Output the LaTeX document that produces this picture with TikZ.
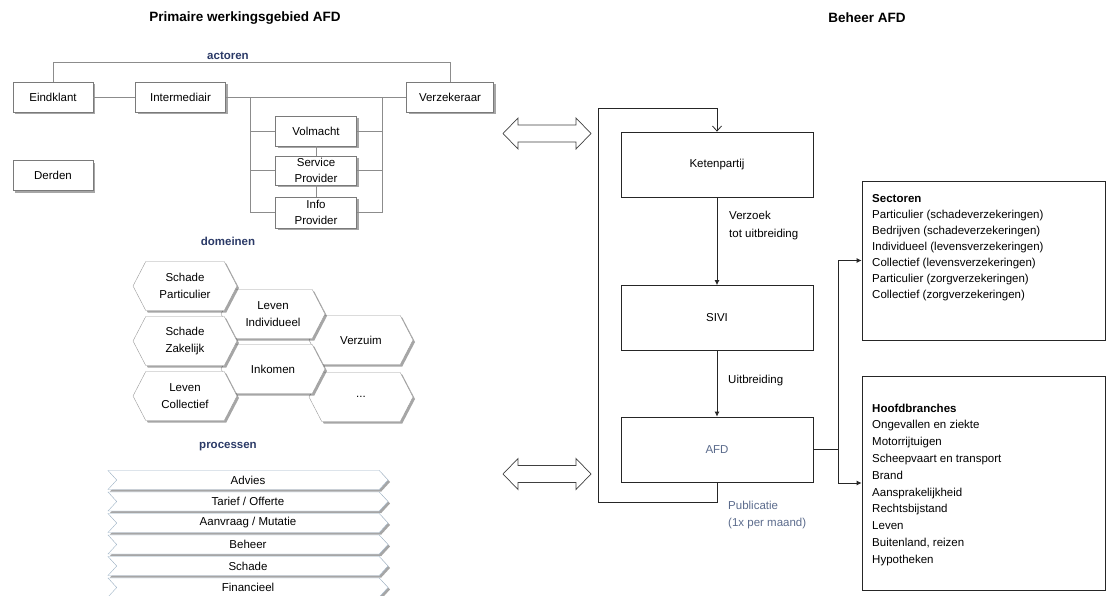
\documentclass[tikz,border=0pt]{standalone}
\usepackage{fontspec}
\setmainfont{Liberation Sans}
\usetikzlibrary{shapes.symbols,shadows,arrows.meta}
\definecolor{navy}{HTML}{2B3A67}
\definecolor{conngray}{HTML}{8C8C8C}
\definecolor{boxgray}{HTML}{7A7A7A}
\definecolor{hexgray}{HTML}{9A9A9A}
\definecolor{procblue}{HTML}{9FB4C7}
\definecolor{afdblue}{HTML}{5B6B8C}
\begin{document}
\begin{tikzpicture}[x=1pt,y=-1pt,
  font=\fontsize{11.5}{14}\selectfont,
  shd/.style={drop shadow={shadow xshift=2pt,shadow yshift=-2pt,fill=black,opacity=0.35}},
  actor/.style={draw=boxgray, fill=white, shd, minimum height=30pt, inner sep=0pt, align=center,
    font=\fontsize{11.5}{16}\selectfont},
  hexa/.style={signal, signal to=east and west, signal pointer angle=125, draw=hexgray, fill=white, shd,
    minimum width=104pt, minimum height=49pt, inner sep=0pt, align=center, font=\fontsize{11.5}{17}\selectfont},
  proc/.style={signal, signal from=west, signal to=east, signal pointer angle=95, draw=procblue, fill=white, shd,
    minimum width=280pt, minimum height=19pt, inner sep=0pt},
  seclabel/.style={font=\fontsize{11.5}{14}\selectfont\bfseries, text=navy},
  titlelabel/.style={font=\fontsize{13.5}{16}\selectfont\bfseries},
  conn/.style={draw=conngray, line width=0.8pt},
  flow/.style={draw=black!85, line width=0.8pt, minimum width=192pt, minimum height=65pt, fill=white},
  arr/.style={draw=black!85, line width=0.8pt, -{Latex[length=5pt,width=5pt]}},
  dblarrow/.pic={
    \draw[draw=black!75, line width=0.7pt, fill=white]
      (-44,0) -- (-29,-15.5) -- (-29,-8.5) -- (29,-8.5) -- (29,-15.5) -- (44,0)
      -- (29,15.5) -- (29,8.5) -- (-29,8.5) -- (-29,15.5) -- cycle;
  }
]
\useasboundingbox (0,0) rectangle (1107,595);

% Titles
\node[titlelabel] (t1) at (245,18) {Primaire werkingsgebied AFD};
\node[titlelabel] (t2) at (867,18) {Beheer AFD};

% ---------- actoren ----------
\node[seclabel] (lact) at (228,56) {actoren};
\node[actor, minimum width=80pt] (eind) at (53,97) {Eindklant};
\node[actor, minimum width=90pt] (inter) at (180.5,97) {Intermediair};
\node[actor, minimum width=87pt] (verz) at (450,97) {Verzekeraar};
\node[actor, minimum width=80pt] (derd) at (53,175.5) {Derden};
\node[actor, minimum width=81pt] (volm) at (316,131) {Volmacht};
\node[actor, minimum width=81pt, minimum height=29pt] (serv) at (316,170.5) {Service\\Provider};
\node[actor, minimum width=81pt, minimum height=31pt] (info) at (316,212.5) {Info\\Provider};

\coordinate (jl) at (250,97);
\coordinate (jr) at (382,97);
\draw[conn] (eind.north) -- ++(0,-19) -| (verz.north);
\draw[conn] (eind) -- (inter);
\draw[conn] (inter) -- (verz);
\draw[conn] (jl) |- (volm.west);
\draw[conn] (jl) |- (serv.west);
\draw[conn] (jl) |- (info.west);
\draw[conn] (jr) |- (volm.east);
\draw[conn] (jr) |- (serv.east);
\draw[conn] (jr) |- (info.east);
\draw[conn] (volm) -- (serv);
\draw[conn] (serv) -- (info);

% ---------- domeinen ----------
\node[seclabel] (ldom) at (228,241) {domeinen};
\node[hexa] (verzuim) at (361,340) {Verzuim};
\node[hexa] (dots) at (361,397) {...};
\node[hexa] (levind) at (273,314) {Leven\\Individueel};
\node[hexa] (inkomen) at (273,369) {Inkomen};
\node[hexa] (schpart) at (185,286) {Schade\\Particulier};
\node[hexa] (schzak) at (185,341) {Schade\\Zakelijk};
\node[hexa] (levcol) at (185,396) {Leven\\Collectief};

% ---------- processen ----------
\node[seclabel] (lproc) at (228,447) {processen};
\node[proc] (p1) at (248,480) {Advies};
\node[proc] (p2) at (248,501.5) {Tarief / Offerte};
\node[proc] (p3) at (248,523) {Aanvraag / Mutatie};
\node[proc] (p4) at (248,544.5) {Beheer};
\node[proc] (p5) at (248,566) {Schade};
\node[proc] (p6) at (248,587.5) {Financieel};

% ---------- double arrows ----------
\pic at (547,133.5) {dblarrow};
\pic at (547,474) {dblarrow};

% ---------- Beheer ----------
\node[flow] (keten) at (717,164.5) {Ketenpartij};
\node[flow] (sivi) at (717,318) {SIVI};
\node[flow, text=afdblue] (afd) at (717,449.5) {AFD};

\draw[arr] (keten) -- (sivi);
\draw[arr] (sivi) -- (afd);
\node[anchor=west, align=left, inner sep=0pt, font=\fontsize{11.5}{18}\selectfont] (lab1) at (729,226) {Verzoek\\tot uitbreiding};
\node[anchor=west, inner sep=0pt] (lab2) at (728,381) {Uitbreiding};
\node[anchor=west, align=left, inner sep=0pt, text=afdblue, font=\fontsize{11.5}{16.5}\selectfont] (lab3) at (728,515) {Publicatie\\(1x per maand)};

\coordinate (lpb) at (598,502);
\coordinate (lpt) at (598,108);
\draw[draw=black!85, line width=0.8pt, -{Straight Barb[length=5pt,width=9pt]}] (afd.south) |- (lpb) -- (lpt) -| (keten.north);

\node[draw=black!85, line width=0.8pt, minimum width=243pt, minimum height=159pt] (sectbox) at (983.5,260.5) {};
\node[draw=black!85, line width=0.8pt, minimum width=243pt, minimum height=214pt] (hoofbox) at (983.5,483) {};
\draw[arr] (afd.east) -- ++(25,0) |- (sectbox.west);
\draw[arr] (afd.east) -- ++(25,0) |- (hoofbox.west);

\node[anchor=north west, align=left, inner sep=0pt, font=\fontsize{11.5}{16}\selectfont] (secttxt) at (872,194)
  {\textbf{Sectoren}\\Particulier (schadeverzekeringen)\\Bedrijven (schadeverzekeringen)\\Individueel (levensverzekeringen)\\Collectief (levensverzekeringen)\\Particulier (zorgverzekeringen)\\Collectief (zorgverzekeringen)};
\node[anchor=north west, align=left, inner sep=0pt, font=\fontsize{11.5}{16.8}\selectfont] (hooftxt) at (872,403.5)
  {\textbf{Hoofdbranches}\\Ongevallen en ziekte\\Motorrijtuigen\\Scheepvaart en transport\\Brand\\Aansprakelijkheid\\Rechtsbijstand\\Leven\\Buitenland, reizen\\Hypotheken};
\end{tikzpicture}
\end{document}
